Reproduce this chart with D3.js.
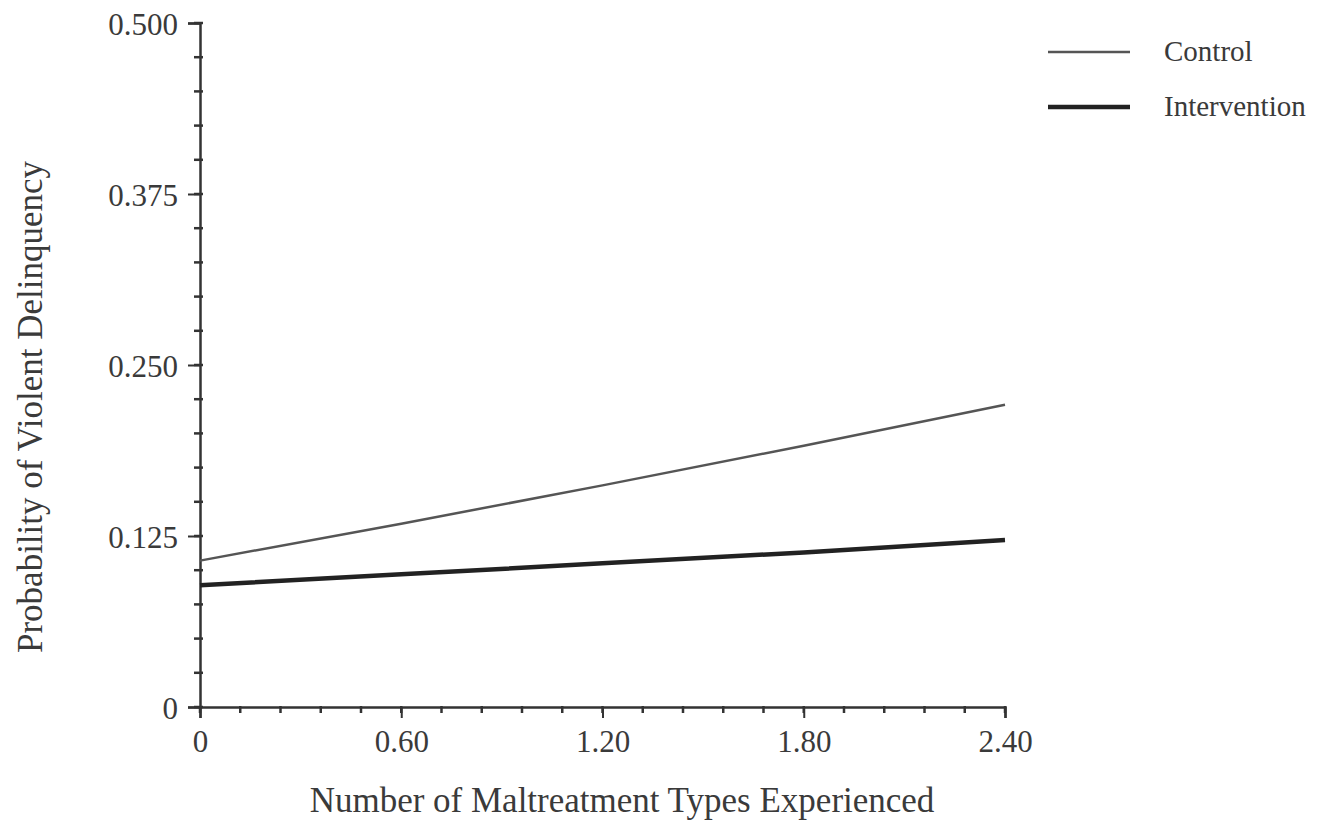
<!DOCTYPE html>
<html>
<head>
<meta charset="UTF-8">
<title>Violent delinquency</title>
<script src="https://cdn.jsdelivr.net/npm/d3@7"></script>
<style>
  body { margin: 0; background: #fff; }
  text { font-family: "Liberation Serif", "Times New Roman", serif; fill: #3a3a3a; }
</style>
</head>
<body>
<script>
// values
var maltreatment = [0, 0.6, 1.2, 1.8, 2.4];
var control      = [0.107, 0.134, 0.162, 0.191, 0.221];
var intervention = [0.089, 0.097, 0.105, 0.113, 0.122];
var xTicks = [0, 0.6, 1.2, 1.8, 2.4];
var xTickLabels = ["0", "0.60", "1.20", "1.80", "2.40"];
var yTicks = [0, 0.125, 0.25, 0.375, 0.5];
var yTickLabels = ["0", "0.125", "0.250", "0.375", "0.500"];
var seriesNames = ["Control", "Intervention"];

var w = 1320, h = 826;
var x0 = 200, x1 = 1005, yBot = 707, yTop = 23;

var svg = d3.select("body").append("svg")
    .attr("width", w)
    .attr("height", h);

var x = d3.scaleLinear().domain([0, 2.4]).range([x0, x1]);
var y = d3.scaleLinear().domain([0, 0.5]).range([yBot, yTop]);

// minor ticks
var xMinor = d3.range(0, 21).map(function(i) { return i * 0.12; });
var yMinor = d3.range(0, 21).map(function(i) { return i * 0.025; });

svg.append("g").selectAll("line").data(xMinor).enter().append("line")
    .attr("x1", function(d) { return x(d); }).attr("x2", function(d) { return x(d); })
    .attr("y1", yBot - 1).attr("y2", yBot + 6)
    .attr("stroke", "#333").attr("stroke-width", 2.5);

svg.append("g").selectAll("line").data(yMinor).enter().append("line")
    .attr("y1", function(d) { return y(d); }).attr("y2", function(d) { return y(d); })
    .attr("x1", x0 - 6).attr("x2", x0 + 3)
    .attr("stroke", "#333").attr("stroke-width", 2.5);

// axes
var xAxis = d3.axisBottom(x).tickValues(xTicks).tickSize(11).tickPadding(12)
    .tickFormat(function(d, i) { return xTickLabels[i]; });
var gx = svg.append("g").attr("transform", "translate(0," + yBot + ")").call(xAxis);

var yAxis = d3.axisLeft(y).tickValues(yTicks).tickSize(12).tickPadding(10)
    .tickFormat(function(d, i) { return yTickLabels[i]; });
var gy = svg.append("g").attr("transform", "translate(" + x0 + ",0)").call(yAxis);

[gx, gy].forEach(function(g) {
  g.select(".domain").attr("stroke", "#333").attr("stroke-width", 2.5);
  g.selectAll(".tick line").attr("stroke", "#333").attr("stroke-width", 2);
  g.selectAll(".tick text")
      .style("font-family", "'Liberation Serif', serif")
      .style("font-size", "31px")
      .attr("fill", "#3a3a3a");
});
gy.selectAll(".tick text").attr("dy", "0.36em");

// lines
var line = d3.line()
    .x(function(d) { return x(d[0]); })
    .y(function(d) { return y(d[1]); });

svg.append("path")
    .datum(maltreatment.map(function(v, i) { return [v, control[i]]; }))
    .attr("d", line)
    .attr("fill", "none").attr("stroke", "#555").attr("stroke-width", 2.5);

svg.append("path")
    .datum(maltreatment.map(function(v, i) { return [v, intervention[i]]; }))
    .attr("d", line)
    .attr("fill", "none").attr("stroke", "#222").attr("stroke-width", 4.5);

// legend
var legend = svg.append("g").selectAll("g").data(seriesNames).enter().append("g")
    .attr("transform", function(d, i) { return "translate(1048," + (52 + i * 55) + ")"; });
legend.append("line")
    .attr("x1", 0).attr("x2", 82)
    .attr("stroke", function(d, i) { return i ? "#222" : "#555"; })
    .attr("stroke-width", function(d, i) { return i ? 4.5 : 2.5; });
legend.append("text")
    .attr("x", 116).attr("dy", "0.3em")
    .style("font-size", "29px")
    .text(function(d) { return d; });

// axis titles
svg.append("text")
    .attr("x", 622).attr("y", 812)
    .attr("text-anchor", "middle")
    .style("font-size", "35px")
    .text("Number of Maltreatment Types Experienced");

svg.append("text")
    .attr("transform", "translate(42,407) rotate(-90)")
    .attr("text-anchor", "middle")
    .style("font-size", "35px")
    .text("Probability of Violent Delinquency");
</script>
</body>
</html>
